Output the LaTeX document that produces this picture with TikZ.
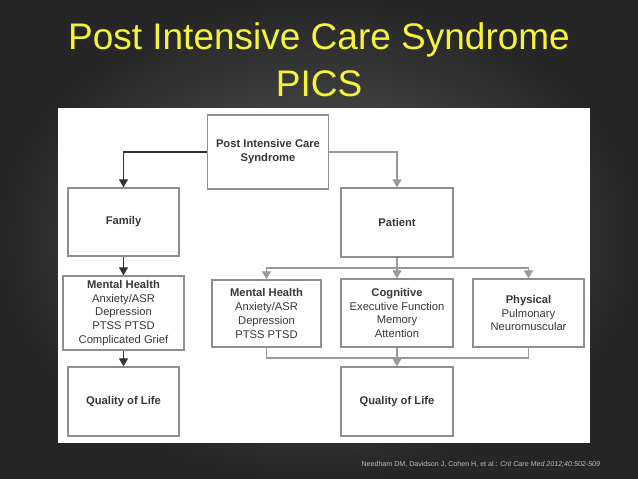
\documentclass[tikz,border=0pt]{standalone}
\usepackage{fontspec}
\setmainfont{Liberation Sans}
\usepackage{xcolor}
\usepackage{tikz}
\usetikzlibrary{arrows.meta}

\definecolor{bgdark}{HTML}{262626}
\definecolor{bglight}{HTML}{5E5E5E}
\definecolor{titleyellow}{HTML}{F4F43A}
\definecolor{boxline}{HTML}{8E8E8E}
\definecolor{linkline}{HTML}{9A9A9A}
\definecolor{boxtext}{HTML}{383838}
\definecolor{citetext}{HTML}{BDBDBD}

\begin{document}
\begin{tikzpicture}[
                x=1pt, y=-1pt,
                box/.style={draw=boxline, line width=1.3pt, fill=white, inner sep=0pt, align=center,
                            text=boxtext, font=\fontsize{11.2}{13.8}\selectfont},
                link/.style={draw=linkline, line width=1.2pt},
                arr/.style={link, -{Triangle[width=9pt,length=8pt]}},
                darr/.style={draw=black!80, line width=1.1pt, -{Triangle[width=9pt,length=8pt]}},
                title/.style={text=titleyellow, font=\fontsize{37}{44}\selectfont, anchor=base}
            ]
                \useasboundingbox (0,0) rectangle (638,479);

                % Fond et panneau blanc
                \shade[inner color=bglight, outer color=bgdark] (0,0) rectangle (638,479);
                \fill[white] (58,108) rectangle (590,443);

                % Titre
                \node[title] (t1) at (319,49) {Post Intensive Care Syndrome};
                \node[title] (t2) at (319,96) {PICS};

                % Les boites
                \node[box, minimum width=121pt, minimum height=74pt] (pics) at (268,152) {\textbf{Post Intensive Care}\\\textbf{Syndrome}};
                \node[box, minimum width=111pt, minimum height=68pt] (family) at (123.5,222) {\textbf{Family}};
                \node[box, minimum width=112pt, minimum height=69pt] (patient) at (397,222.5) {\textbf{Patient}};

                \node[box, minimum width=121pt, minimum height=74pt] (mhf) at (123.5,313) {\textbf{Mental Health}\\Anxiety/ASR\\Depression\\PTSS PTSD\\Complicated Grief};
                \node[box, minimum width=109pt, minimum height=67pt] (mhp) at (266.5,313.5) {\textbf{Mental Health}\\Anxiety/ASR\\Depression\\PTSS PTSD};
                \node[box, minimum width=112pt, minimum height=68pt] (cog) at (397,313) {\textbf{Cognitive}\\Executive Function\\Memory\\Attention};
                \node[box, minimum width=111pt, minimum height=68pt] (phys) at (528.5,313) {\textbf{Physical}\\Pulmonary\\Neuromuscular};

                \node[box, minimum width=111pt, minimum height=69pt] (qolf) at (123.5,401.5) {\textbf{Quality of Life}};
                \node[box, minimum width=112pt, minimum height=69pt] (qolp) at (397,401.5) {\textbf{Quality of Life}};

                % Branche famille
                \draw[darr] (pics.west) -| (family.north);
                \draw[darr] (family) -- (mhf);
                \draw[darr] (mhf) -- (qolf);

                % Branche patient
                \coordinate (split) at (397,268);
                \coordinate (join) at (397,358);
                \draw[arr] (pics.east) -| (patient.north);
                \draw[link] (patient.south) -- (split);
                \draw[arr] (split) -| (mhp.north);
                \draw[arr] (split) -- (cog.north);
                \draw[arr] (split) -| (phys.north);
                \draw[link] (mhp.south) |- (join);
                \draw[link] (phys.south) |- (join);
                \draw[arr] (cog.south) -- (qolp.north);

                % Reference
                \node[text=citetext, font=\fontsize{7.1}{8}\selectfont, anchor=base west] (cite) at (358,466)
                    {Needham DM, Davidson J, Cohen H, et al.: \textit{Crit Care Med 2012;40:502-509}};
            \end{tikzpicture}
\end{document}
